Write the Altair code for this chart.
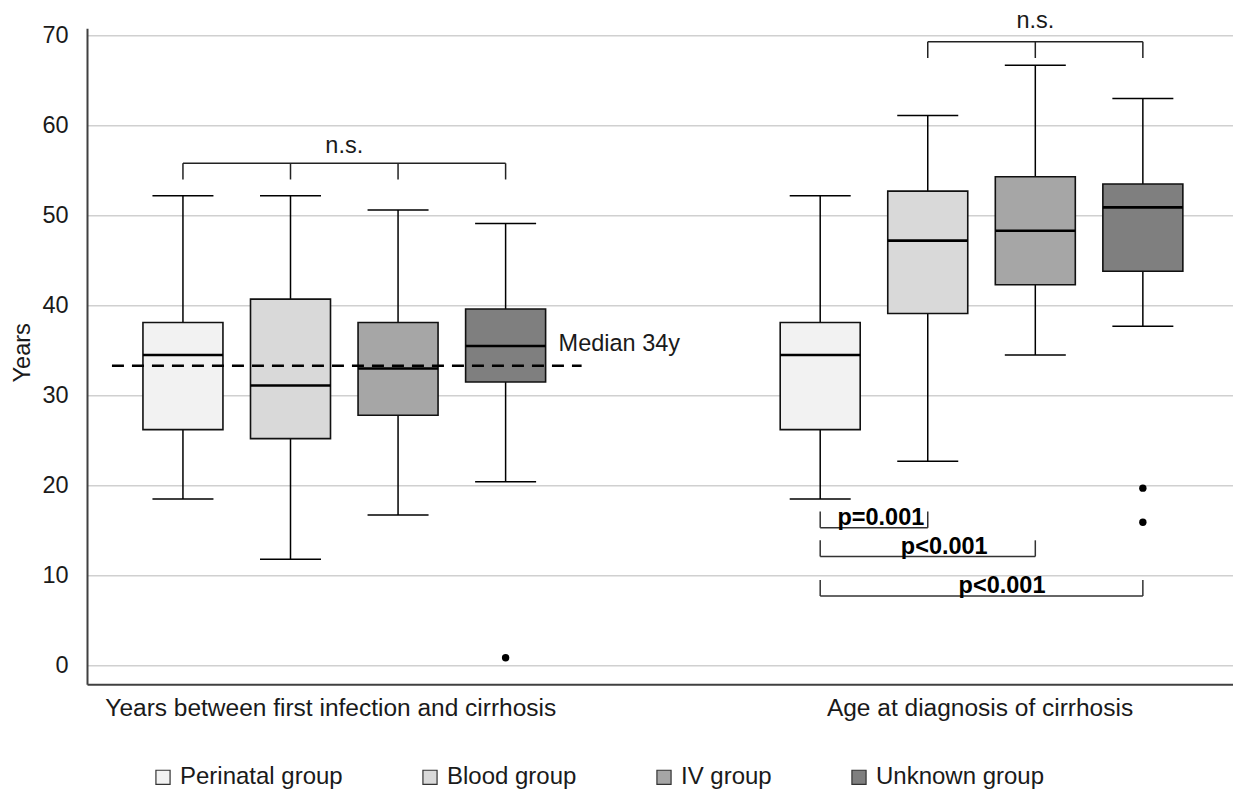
import altair as alt
import pandas as pd

# ---------------- data ----------------
groups = ["Perinatal group", "Blood group", "IV group", "Unknown group"]
panels = ["Years between first infection and cirrhosis", "Age at diagnosis of cirrhosis"]
colors = ["#f2f2f2", "#d9d9d9", "#a6a6a6", "#7f7f7f"]

# panel 1: years between first infection and cirrhosis
p1_low = [18.5, 11.8, 16.7, 20.4]
p1_q1 = [26.2, 25.2, 27.8, 31.5]
p1_med = [34.5, 31.1, 33.0, 35.5]
p1_q3 = [38.1, 40.7, 38.1, 39.6]
p1_high = [52.2, 52.2, 50.6, 49.1]

# panel 2: age at diagnosis of cirrhosis
p2_low = [18.5, 22.7, 34.5, 37.7]
p2_q1 = [26.2, 39.1, 42.3, 43.8]
p2_med = [34.5, 47.2, 48.3, 50.9]
p2_q3 = [38.1, 52.7, 54.3, 53.5]
p2_high = [52.2, 61.1, 66.7, 63.0]

outlier_panel = [0, 1, 1]
outlier_group = [3, 3, 3]
outlier_value = [0.85, 19.7, 15.9]

overall_median = 33.3
overall_median_label = "Median 34y"
overall_median_label_y = 35.7

ns_panel = [0, 1]
ns_from = [0, 1]
ns_to = [3, 3]
ns_y = [55.8, 69.3]
ns_label_y = [57.7, 71.6]
ns_label = "n.s."

p_from = [0, 0, 0]
p_to = [1, 2, 3]
p_y = [15.3, 12.1, 7.7]
p_labels = ["p=0.001", "p<0.001", "p<0.001"]

y_ticks = [0, 10, 20, 30, 40, 50, 60, 70]

# ---------------- layout helpers ----------------
PANEL_GAP = 5.925
TICK_LEN = 1.8
FONT = "Liberation Sans"


def slot(p, g):
    return p * PANEL_GAP + g


rows = []
for p, (lo, a, m, b, hi) in enumerate([(p1_low, p1_q1, p1_med, p1_q3, p1_high),
                                        (p2_low, p2_q1, p2_med, p2_q3, p2_high)]):
    for g, name in enumerate(groups):
        rows.append(dict(panel=panels[p], group=name, slot=slot(p, g),
                         low=lo[g], q1=a[g], med=m[g], q3=b[g], high=hi[g]))
boxes = pd.DataFrame(rows)

outliers = pd.DataFrame({"slot": [slot(p, g) for p, g in zip(outlier_panel, outlier_group)],
                         "value": outlier_value})

x_scale = alt.Scale(domain=[-0.8456, 9.7166], nice=False, zero=False)
y_scale = alt.Scale(domain=[-2.1, 70.8], nice=False, zero=False)

split = slot(0, 3) + 1
label_expr = f"datum.value < {split} ? '{panels[0]}' : '{panels[1]}'"
x_axis = alt.Axis(values=[slot(0, 1.5), slot(1, 1.5)], labelExpr=label_expr, grid=False,
                  ticks=False, domain=True, domainColor="#404040", domainWidth=2,
                  labelFontSize=24.5, labelColor="#1a1a1a", labelPadding=12,
                  labelOffset={"condition": {"test": f"datum.value < {split}", "value": -14},
                               "value": -2},
                  labelFlush=False, labelLimit=700, labelBaseline="top", title=None)
y_axis = alt.Axis(values=y_ticks, grid=True, gridColor="#d0d0d0", gridWidth=1.4,
                  ticks=False, domain=True, domainColor="#404040", domainWidth=2,
                  labelFontSize=23.5, labelColor="#1a1a1a", labelPadding=19,
                  title="Years", titleFontSize=23.5, titleFontWeight="normal",
                  titleColor="#1a1a1a", titleX=-65, titleY=324, titleAngle=-90,
                  titleAlign="center", titleBaseline="middle")


def X(field="slot"):
    return alt.X(f"{field}:Q", scale=x_scale, axis=x_axis)


def Y(field):
    return alt.Y(f"{field}:Q", scale=y_scale, axis=y_axis)


base = alt.Chart(boxes)

whisk_lo = base.mark_rule(color="black", strokeWidth=1.5).encode(x=X(), y=Y("low"), y2="q1:Q")
whisk_hi = base.mark_rule(color="black", strokeWidth=1.5).encode(x=X(), y=Y("q3"), y2="high:Q")
cap_lo = base.mark_rule(color="black", strokeWidth=1.5, xOffset=-30.5, x2Offset=30.5).encode(
    x=X(), x2="slot:Q", y=Y("low"))
cap_hi = base.mark_rule(color="black", strokeWidth=1.5, xOffset=-30.5, x2Offset=30.5).encode(
    x=X(), x2="slot:Q", y=Y("high"))
box = base.mark_bar(size=80, stroke="#111111", strokeWidth=1.6).encode(
    x=X(), y=Y("q1"), y2="q3:Q",
    color=alt.Color("group:N", scale=alt.Scale(domain=groups, range=colors),
                    legend=alt.Legend(title=None, orient="none", legendX=64, legendY=737,
                                      direction="horizontal", symbolType="square",
                                      symbolSize=200, symbolStrokeColor="#333333",
                                      symbolStrokeWidth=1.2, symbolOpacity=1,
                                      labelFontSize=24, labelFont=FONT, labelColor="#1a1a1a",
                                      labelOffset=5, labelLimit=400, columnPadding=75,
                                      padding=0)))
median = base.mark_rule(color="black", strokeWidth=2.6, xOffset=-40, x2Offset=40).encode(
    x=X(), x2="slot:Q", y=Y("med"))

outl = alt.Chart(outliers).mark_circle(size=55, color="black", opacity=1).encode(
    x=X(), y=Y("value"))

# overall median dashed line with label
med_df = pd.DataFrame({"x": [slot(0, 0)], "x2": [slot(0, 3)], "value": [overall_median],
                       "ly": [overall_median_label_y], "label": [overall_median_label]})
med_line = alt.Chart(med_df).mark_rule(color="black", strokeWidth=2.4, strokeDash=[12, 8],
                                       xOffset=-71, x2Offset=76).encode(
    x=X("x"), x2="x2:Q", y=Y("value"))
med_text = alt.Chart(med_df).mark_text(align="left", baseline="middle", dx=53, fontSize=23.5,
                                       color="#1a1a1a").encode(
    x=X("x2"), y=Y("ly"), text="label:N")

# n.s. brackets
ns_h = pd.DataFrame({"x": [slot(p, a) for p, a in zip(ns_panel, ns_from)],
                     "x2": [slot(p, b) for p, b in zip(ns_panel, ns_to)],
                     "y": ns_y, "ly": ns_label_y, "label": [ns_label] * len(ns_y)})
ns_h["xm"] = (ns_h["x"] + ns_h["x2"]) / 2
ns_t_rows = []
for p, a, b, yy in zip(ns_panel, ns_from, ns_to, ns_y):
    for g in range(a, b + 1):
        ns_t_rows.append({"x": slot(p, g), "y": yy, "y2": yy - TICK_LEN})
ns_t = pd.DataFrame(ns_t_rows)
ns_hline = alt.Chart(ns_h).mark_rule(color="#222222", strokeWidth=1.5).encode(
    x=X("x"), x2="x2:Q", y=Y("y"))
ns_ticks = alt.Chart(ns_t).mark_rule(color="#222222", strokeWidth=1.5).encode(
    x=X("x"), y=Y("y"), y2="y2:Q")
ns_text = alt.Chart(ns_h).mark_text(baseline="middle", fontSize=23.5, color="#1a1a1a").encode(
    x=X("xm"), y=Y("ly"), text="label:N")

# p-value brackets
p_h = pd.DataFrame({"x": [slot(1, a) for a in p_from], "x2": [slot(1, b) for b in p_to],
                    "y": p_y, "label": p_labels})
p_t_rows = []
for a, b, yy in zip(p_from, p_to, p_y):
    for g in (a, b):
        p_t_rows.append({"x": slot(1, g), "y": yy, "y2": yy + TICK_LEN})
p_t = pd.DataFrame(p_t_rows)
p_hline = alt.Chart(p_h).mark_rule(color="#333333", strokeWidth=1.5).encode(
    x=X("x"), x2="x2:Q", y=Y("y"))
p_ticks = alt.Chart(p_t).mark_rule(color="#333333", strokeWidth=1.5).encode(
    x=X("x"), y=Y("y"), y2="y2:Q")

p_text_layers = []
p_dx = [-3.5, 16.5, 20.5]
for i in range(len(p_labels)):
    row = p_h.iloc[[i]].copy()
    row["xm"] = (row["x"] + row["x2"]) / 2
    if i == 0:
        t = alt.Chart(row).mark_text(align="right", baseline="alphabetic", dx=p_dx[i], dy=-3,
                                     fontSize=23.5, fontWeight="bold", color="black").encode(
            x=X("x2"), y=Y("y"), text="label:N")
    else:
        t = alt.Chart(row).mark_text(align="center", baseline="alphabetic", dx=p_dx[i], dy=-3,
                                     fontSize=23.5, fontWeight="bold", color="black").encode(
            x=X("xm"), y=Y("y"), text="label:N")
    p_text_layers.append(t)

chart = alt.layer(
    whisk_lo, whisk_hi, cap_lo, cap_hi, box, median, outl,
    med_line, med_text, ns_hline, ns_ticks, ns_text, p_hline, p_ticks, *p_text_layers
).properties(
    width=1146, height=656,
    autosize=alt.AutoSizeParams(type="none"),
    padding={"left": 79, "top": 20.3, "right": 0, "bottom": 106},
).configure(font=FONT).configure_view(stroke=None)

chart.save("out.html", embed_options={"renderer": "svg", "actions": False})
